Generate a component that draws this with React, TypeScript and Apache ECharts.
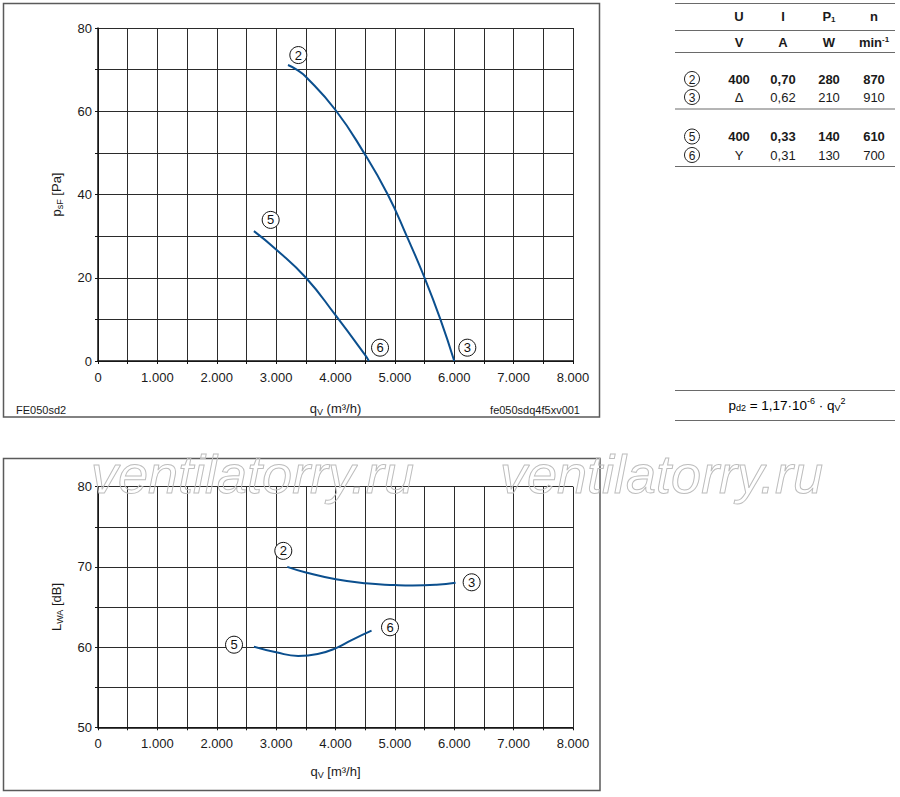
import React, { useEffect, useRef } from 'react';
import * as echarts from 'echarts';

// ---- data ----
const pressureQ2 = [3200, 3345, 3500, 4000, 4480, 4880, 5200, 5500, 5767, 6000];
const pressureP2 = [71.1, 70, 68.3, 60.3, 50, 40, 30, 20, 10, 0];
const pressureQ5 = [2626, 3000, 3502, 4000, 4500, 4562];
const pressureP5 = [31.2, 26.8, 20, 11, 1.4, 0];

const soundQ2 = [3187, 3502, 4007, 4507, 5000, 5300, 5700, 6022];
const soundL2 = [70.0, 69.3, 68.45, 67.95, 67.74, 67.68, 67.78, 68.03];
const soundQ5 = [2626, 3000, 3372, 3700, 4000, 4271, 4607];
const soundL5 = [60.05, 59.35, 58.9, 59.14, 59.85, 60.88, 62.05];

const pressureMarkerNames = ['2', '3', '5', '6'];
const pressureMarkerQ = [3374, 6220, 2908, 4750];
const pressureMarkerP = [73.5, 3.2, 33.9, 3.2];
const soundMarkerNames = ['2', '3', '5', '6'];
const soundMarkerQ = [3121, 6293, 2291, 4918];
const soundMarkerL = [72.0, 68.08, 60.3, 62.47];

const tableHeader = ['U', 'I', 'P1', 'n'];
const tableUnits = ['V', 'A', 'W', 'min-1'];
const tableMarks = ['2', '3', '5', '6'];
const tableU = ['400', 'Δ', '400', 'Y'];
const tableI = ['0,70', '0,62', '0,33', '0,31'];
const tableP = ['280', '210', '140', '130'];
const tableN = ['870', '910', '610', '700'];
const tableBold = [true, false, true, false];

const FONT = '"Liberation Sans", Arial, Helvetica, sans-serif';
const BLUE = '#0b4f8e';
const GRID = '#2b2b2b';

const fmtQ = (v: number) => (v % 1000 === 0 ? (v === 0 ? '0' : `${v / 1000}.000`) : '');

function pairs(xs: number[], ys: number[]) {
  return xs.map((x, i) => [x, ys[i]]);
}

function markers(names: string[], xs: number[], ys: number[]) {
  return names.map((n, i) => ({ name: n, value: [xs[i], ys[i]] }));
}

const nameRich = {
  a: { fontFamily: FONT, fontSize: 13, color: '#1a1a1a' },
  s: { fontFamily: FONT, fontSize: 9, color: '#1a1a1a', padding: [6, 0, 0, 0] },
};

function xAxisCfg(gridIndex: number, name: string, nameGap: number) {
  return {
    type: 'value',
    gridIndex,
    min: 0,
    max: 8000,
    interval: 500,
    name,
    nameLocation: 'middle',
    nameGap,
    nameTextStyle: { fontFamily: FONT, fontSize: 13, color: '#1a1a1a', rich: nameRich },
    axisLine: { show: true, lineStyle: { color: '#111', width: 1.5 } },
    axisTick: { show: true, length: 3, lineStyle: { color: '#111' } },
    axisLabel: {
      formatter: fmtQ,
      fontFamily: FONT,
      fontSize: 13,
      color: '#1a1a1a',
      margin: 10,
      showMinLabel: true,
      showMaxLabel: true,
    },
    splitLine: { show: true, lineStyle: { color: GRID, width: 1 } },
  };
}

function yAxisCfg(gridIndex: number, min: number, max: number, interval: number, labelStep: number, name: string) {
  return {
    type: 'value',
    gridIndex,
    min,
    max,
    interval,
    name,
    nameLocation: 'middle',
    nameGap: 34,
    nameTextStyle: { fontFamily: FONT, fontSize: 13, color: '#1a1a1a', rich: nameRich },
    axisLine: { show: true, lineStyle: { color: '#111', width: 1.5 } },
    axisTick: { show: true, length: 3, lineStyle: { color: '#111' } },
    axisLabel: {
      formatter: (v: number) => (v % labelStep === 0 ? String(v) : ''),
      fontFamily: FONT,
      fontSize: 13,
      color: '#1a1a1a',
      margin: 6,
    },
    splitLine: { show: true, lineStyle: { color: GRID, width: 1 } },
  };
}

function lineSeries(xi: number, data: number[][]) {
  return {
    type: 'line',
    xAxisIndex: xi,
    yAxisIndex: xi,
    data,
    smooth: 0.5,
    showSymbol: false,
    symbol: 'none',
    lineStyle: { color: BLUE, width: 2 },
    z: 5,
  };
}

function markerSeries(xi: number, data: any[]) {
  return {
    type: 'scatter',
    xAxisIndex: xi,
    yAxisIndex: xi,
    data,
    symbol: 'circle',
    symbolSize: 17,
    itemStyle: { color: '#fff', borderColor: '#111', borderWidth: 1, opacity: 1 },
    label: {
      show: true,
      position: 'inside',
      formatter: (p: any) => p.name,
      fontFamily: FONT,
      fontSize: 13,
      color: '#111',
    },
    z: 6,
  };
}

function buildTableGraphics() {
  const g: any[] = [];
  const hline = (y: number) => ({
    type: 'line',
    shape: { x1: 675, y1: y, x2: 895, y2: y },
    style: { stroke: '#6a6a6a', lineWidth: 1 },
  });
  const txt = (x: number, y: number, text: string, bold: boolean, align = 'center', size = 13, rich?: any) => ({
    type: 'text',
    x,
    y,
    style: {
      text,
      fill: '#1a1a1a',
      font: `${bold ? 'bold ' : ''}${size}px ${FONT}`,
      textAlign: align,
      textVerticalAlign: 'middle',
      rich,
    },
  });
  const cols = [739, 783, 829, 874];
  [3.5, 30.5, 52.5, 109, 166.5].forEach((y) => g.push(hline(y)));

  const boldRich = {
    b: { fontFamily: FONT, fontWeight: 'bold', fontSize: 13, color: '#1a1a1a' },
    sub: { fontFamily: FONT, fontWeight: 'bold', fontSize: 8, color: '#1a1a1a', padding: [6, 0, 0, 0] },
    sup: { fontFamily: FONT, fontWeight: 'bold', fontSize: 8, color: '#1a1a1a', padding: [0, 0, 6, 0] },
  };
  tableHeader.forEach((h, i) => {
    if (h === 'P1') g.push(txt(cols[i], 16, '{b|P}{sub|1}', true, 'center', 13, boldRich));
    else g.push(txt(cols[i], 16, h, true));
  });
  tableUnits.forEach((u, i) => {
    if (u === 'min-1') g.push(txt(cols[i], 42, '{b|min}{sup|-1}', true, 'center', 13, boldRich));
    else g.push(txt(cols[i], 42, u, true));
  });
  const rowY = [79, 97, 136.5, 155];
  tableMarks.forEach((m, r) => {
    const y = rowY[r];
    g.push({
      type: 'circle',
      shape: { cx: 692, cy: y, r: 7.5 },
      style: { fill: '#fff', stroke: '#222', lineWidth: 1 },
    });
    g.push(txt(692, y + 0.5, m, false, 'center', 12));
    const b = tableBold[r];
    g.push(txt(cols[0], y, tableU[r], b));
    g.push(txt(cols[1], y, tableI[r], b));
    g.push(txt(cols[2], y, tableP[r], b));
    g.push(txt(cols[3], y, tableN[r], b));
  });

  g.push(hline(390.5));
  g.push(hline(420.5));
  g.push({
    type: 'text',
    x: 787,
    y: 405,
    style: {
      text: '{a|p}{s|d2}{a| = 1,17·10}{p|-6}{a| · q}{s|V}{p|2}',
      textAlign: 'center',
      textVerticalAlign: 'middle',
      rich: {
        a: { fontFamily: FONT, fontSize: 13.5, color: '#1a1a1a' },
        s: { fontFamily: FONT, fontSize: 9, color: '#1a1a1a', padding: [6, 0, 0, 0] },
        p: { fontFamily: FONT, fontSize: 9, color: '#1a1a1a', padding: [0, 0, 8, 0] },
      },
    },
  });
  return g;
}

const watermark = (x: number) => ({
  type: 'text',
  x,
  y: 474,
  z: 100,
  silent: true,
  style: {
    text: 'ventilatorry.ru',
    font: `italic 54px ${FONT}`,
    fill: 'rgba(255,255,255,0)',
    stroke: '#bdbdbd',
    lineWidth: 1,
    textVerticalAlign: 'middle',
  },
});

export default function App() {
  const ref = useRef<HTMLDivElement>(null);
  useEffect(() => {
    if (!ref.current) return;
    const chart = echarts.init(ref.current, undefined, { renderer: 'svg' });
    const option: any = {
      animation: false,
      backgroundColor: '#fff',
      textStyle: { fontFamily: FONT },
      grid: [
        { left: 98, top: 28, width: 475, height: 333 },
        { left: 98, top: 486.7, width: 475, height: 240.6 },
      ],
      xAxis: [xAxisCfg(0, '{a|q}{s|V}{a| (m³/h)}', 40), xAxisCfg(1, '{a|q}{s|V}{a| [m³/h]}', 37)],
      yAxis: [
        yAxisCfg(0, 0, 80, 10, 20, '{a|p}{s|sF}{a| [Pa]}'),
        yAxisCfg(1, 50, 80, 5, 10, '{a|L}{s|WA}{a| [dB]}'),
      ],
      series: [
        lineSeries(0, pairs(pressureQ2, pressureP2)),
        lineSeries(0, pairs(pressureQ5, pressureP5)),
        lineSeries(1, pairs(soundQ2, soundL2)),
        lineSeries(1, pairs(soundQ5, soundL5)),
        markerSeries(0, markers(pressureMarkerNames, pressureMarkerQ, pressureMarkerP)),
        markerSeries(1, markers(soundMarkerNames, soundMarkerQ, soundMarkerL)),
      ],
      graphic: [
        {
          type: 'rect',
          shape: { x: 3.5, y: 3.5, width: 596, height: 413.5 },
          style: { fill: 'none', stroke: '#5a5a5a', lineWidth: 1.5 },
          z: 0,
        },
        {
          type: 'rect',
          shape: { x: 3.5, y: 458.5, width: 596.5, height: 332 },
          style: { fill: 'none', stroke: '#5a5a5a', lineWidth: 1.5 },
          z: 0,
        },
        {
          type: 'text',
          x: 16,
          y: 410,
          style: { text: 'FE050sd2', font: `11px ${FONT}`, fill: '#1a1a1a', textVerticalAlign: 'middle' },
        },
        {
          type: 'text',
          x: 580,
          y: 410,
          style: {
            text: 'fe050sdq4f5xv001',
            font: `11px ${FONT}`,
            fill: '#1a1a1a',
            textAlign: 'right',
            textVerticalAlign: 'middle',
          },
        },
        ...buildTableGraphics(),
        watermark(91),
        watermark(500),
      ],
    };
    chart.setOption(option);
    return () => chart.dispose();
  }, []);
  return (
    <div
      ref={ref}
      style={{ position: 'fixed', left: 0, top: 0, width: 900, height: 797, background: '#fff' }}
    />
  );
}
